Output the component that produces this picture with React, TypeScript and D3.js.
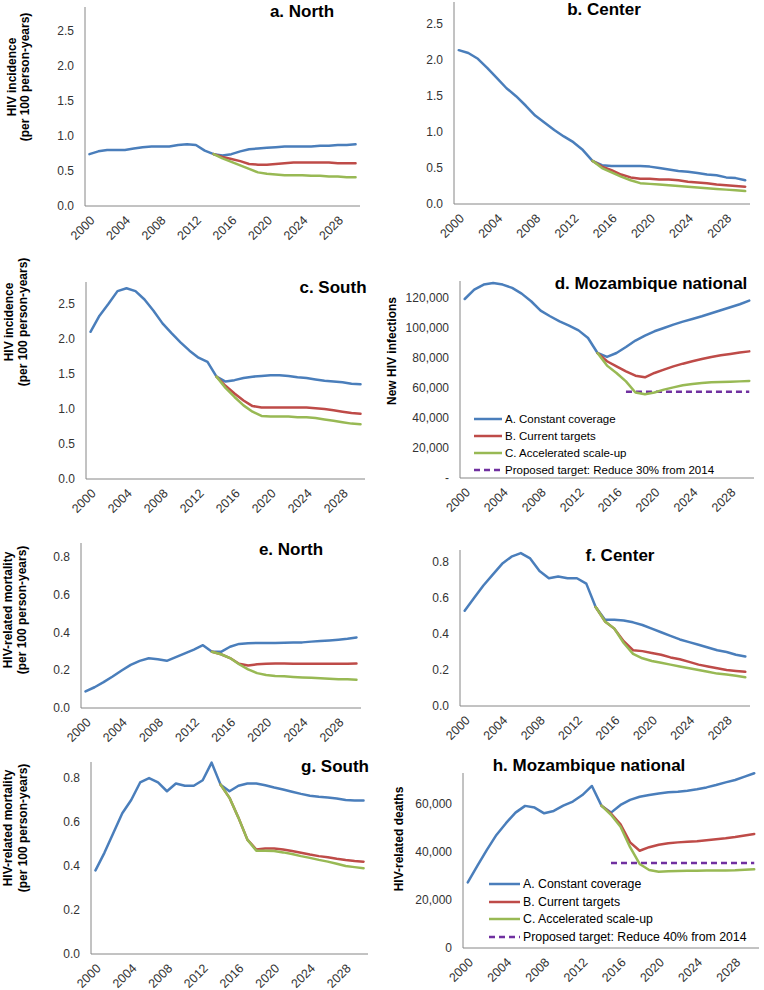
import React, { useEffect } from "react";
import * as d3 from "d3";

// ---------- DATA ----------
const years = [2000, 2001, 2002, 2003, 2004, 2005, 2006, 2007, 2008, 2009, 2010, 2011, 2012, 2013, 2014, 2015,
  2016, 2017, 2018, 2019, 2020, 2021, 2022, 2023, 2024, 2025, 2026, 2027, 2028, 2029, 2030];
const scenarioYears = [2014, 2015, 2016, 2017, 2018, 2019, 2020, 2021, 2022, 2023, 2024, 2025, 2026, 2027, 2028, 2029, 2030];
const xTickYears = [2000, 2004, 2008, 2012, 2016, 2020, 2024, 2028];

const seriesNames = ["A. Constant coverage", "B. Current targets", "C. Accelerated scale-up"];

// a. North incidence
const northIncA = [0.74, 0.78, 0.80, 0.80, 0.80, 0.82, 0.84, 0.85, 0.85, 0.85, 0.87, 0.88, 0.87, 0.79, 0.74, 0.72,
  0.74, 0.78, 0.81, 0.82, 0.83, 0.84, 0.85, 0.85, 0.85, 0.85, 0.86, 0.86, 0.87, 0.87, 0.88];
const northIncB = [0.74, 0.70, 0.67, 0.64, 0.60, 0.59, 0.59, 0.60, 0.61, 0.62, 0.62, 0.62, 0.62, 0.62, 0.61, 0.61, 0.61];
const northIncC = [0.74, 0.68, 0.63, 0.58, 0.53, 0.48, 0.46, 0.45, 0.44, 0.44, 0.44, 0.43, 0.43, 0.42, 0.42, 0.41, 0.41];

// b. Center incidence
const centerIncA = [2.14, 2.10, 2.02, 1.89, 1.75, 1.61, 1.50, 1.37, 1.23, 1.13, 1.03, 0.94, 0.86, 0.75, 0.60, 0.54,
  0.53, 0.53, 0.53, 0.53, 0.52, 0.50, 0.48, 0.46, 0.45, 0.43, 0.41, 0.40, 0.37, 0.36, 0.33];
const centerIncB = [0.60, 0.52, 0.47, 0.41, 0.37, 0.35, 0.35, 0.34, 0.34, 0.33, 0.31, 0.30, 0.29, 0.27, 0.26, 0.25, 0.24];
const centerIncC = [0.60, 0.50, 0.44, 0.38, 0.33, 0.29, 0.28, 0.27, 0.26, 0.25, 0.24, 0.23, 0.22, 0.21, 0.20, 0.19, 0.18];

// c. South incidence
const southIncA = [2.10, 2.33, 2.50, 2.68, 2.72, 2.68, 2.56, 2.40, 2.22, 2.08, 1.95, 1.83, 1.73, 1.67, 1.46, 1.39,
  1.41, 1.44, 1.46, 1.47, 1.48, 1.48, 1.47, 1.45, 1.44, 1.42, 1.40, 1.39, 1.38, 1.36, 1.35];
const southIncB = [1.46, 1.33, 1.22, 1.12, 1.04, 1.02, 1.02, 1.02, 1.02, 1.02, 1.02, 1.01, 1.00, 0.98, 0.96, 0.94, 0.93];
const southIncC = [1.46, 1.30, 1.17, 1.05, 0.96, 0.90, 0.89, 0.89, 0.89, 0.88, 0.88, 0.87, 0.85, 0.83, 0.81, 0.79, 0.78];

// d. National new infections
const natInfA = [119300, 125500, 128900, 130000, 128900, 126700, 122900, 117800, 111600, 107800, 104400, 101600,
  98400, 93300, 83300, 80700, 83300, 87300, 91600, 94900, 97800, 100000, 102200, 104200, 106000, 107800, 109800,
  111800, 113800, 115800, 118200];
const natInfB = [83300, 77800, 74400, 71100, 68200, 67100, 70000, 72200, 74400, 76200, 77800, 79300, 80700, 81800,
  82700, 83600, 84400];
const natInfC = [83300, 74900, 70000, 64400, 57000, 55800, 57000, 58900, 60400, 61800, 62700, 63300, 63800, 64000,
  64200, 64400, 64700];
const natInfTarget = 57500;
const natInfTargetStart = 2017;

// e. North mortality
const northMortA = [0.088, 0.11, 0.137, 0.167, 0.199, 0.229, 0.25, 0.264, 0.258, 0.25, 0.27, 0.29, 0.31, 0.333, 0.298,
  0.298, 0.325, 0.34, 0.343, 0.345, 0.345, 0.345, 0.346, 0.347, 0.348, 0.352, 0.355, 0.358, 0.362, 0.367, 0.374];
const northMortB = [0.298, 0.285, 0.265, 0.235, 0.225, 0.232, 0.235, 0.236, 0.236, 0.235, 0.234, 0.234, 0.234, 0.234,
  0.235, 0.235, 0.236];
const northMortC = [0.298, 0.285, 0.265, 0.232, 0.205, 0.185, 0.175, 0.170, 0.168, 0.165, 0.162, 0.160, 0.158, 0.155,
  0.153, 0.152, 0.150];

// f. Center mortality
const centerMortA = [0.53, 0.60, 0.67, 0.73, 0.79, 0.83, 0.85, 0.82, 0.75, 0.71, 0.72, 0.71, 0.71, 0.68, 0.55, 0.48,
  0.48, 0.475, 0.465, 0.45, 0.43, 0.41, 0.39, 0.37, 0.355, 0.34, 0.325, 0.31, 0.30, 0.285, 0.275];
const centerMortB = [0.55, 0.47, 0.43, 0.36, 0.31, 0.305, 0.295, 0.285, 0.27, 0.26, 0.245, 0.23, 0.22, 0.21, 0.20, 0.195, 0.19];
const centerMortC = [0.55, 0.47, 0.43, 0.35, 0.29, 0.265, 0.25, 0.24, 0.23, 0.22, 0.21, 0.20, 0.19, 0.18, 0.175, 0.168, 0.16];

// g. South mortality
const southMortA = [0.38, 0.46, 0.55, 0.64, 0.70, 0.78, 0.80, 0.78, 0.74, 0.775, 0.765, 0.765, 0.79, 0.87, 0.77, 0.74,
  0.765, 0.775, 0.775, 0.767, 0.757, 0.748, 0.738, 0.728, 0.72, 0.715, 0.712, 0.707, 0.70, 0.698, 0.698];
const southMortB = [0.77, 0.71, 0.62, 0.52, 0.475, 0.48, 0.48, 0.475, 0.468, 0.46, 0.452, 0.445, 0.44, 0.433, 0.427, 0.423, 0.42];
const southMortC = [0.77, 0.71, 0.62, 0.52, 0.47, 0.47, 0.468, 0.462, 0.455, 0.445, 0.437, 0.428, 0.42, 0.41, 0.40, 0.395, 0.39];

// h. National deaths
const natDeathA = [27300, 34200, 40900, 47100, 52000, 56400, 59200, 58500, 56100, 57100, 59300, 61000, 63700, 67500,
  59300, 56400, 59600, 61700, 63000, 63700, 64400, 64900, 65100, 65500, 66100, 66900, 67900, 69000, 70000, 71400, 72800];
const natDeathB = [59300, 56000, 51500, 44000, 40500, 42000, 43000, 43600, 44000, 44300, 44500, 44900, 45300, 45700,
  46200, 46900, 47500];
const natDeathC = [59300, 55500, 50500, 42000, 35000, 32500, 31800, 32000, 32100, 32200, 32200, 32300, 32300, 32300,
  32400, 32600, 32800];
const natDeathTarget = 35400;
const natDeathTargetStart = 2015;

const incTicks = [0, 0.5, 1.0, 1.5, 2.0, 2.5];
const mortTicks = [0, 0.2, 0.4, 0.6, 0.8];
const infTicks = [0, 20000, 40000, 60000, 80000, 100000, 120000];
const deathTicks = [0, 20000, 40000, 60000];

// ---------- STYLE / LAYOUT ----------
const COLORS = ["#4A7EBB", "#BE4B48", "#98B954"];
const TARGET_COLOR = "#7030A0";
const AXIS_COLOR = "#868686";
const FONT = "Arial, 'Liberation Sans', Helvetica, sans-serif";

const fmtDec = (v: number) => v.toFixed(1);
const fmtInf = (v: number) => (v === 0 ? "-" : d3.format(",")(v));
const fmtDeath = (v: number) => d3.format(",")(v);

type Panel = {
  left: number; right: number; top: number; bottom: number; yMax: number;
  ticks: number[]; fmt: (v: number) => string;
  title: string; titleX: number; titleY: number;
  yTitle: string[]; yTitleX: number[]; yTitleY: number;
  series: number[][];
  target?: { value: number; start: number; label: string };
  legend?: { x1: number; x2: number; tx: number; ys: number[]; size: number };
};

const panels: Panel[] = [
  { left: 85, right: 360, top: 7, bottom: 206, yMax: 2.84, ticks: incTicks, fmt: fmtDec,
    title: "a. North", titleX: 302, titleY: 17,
    yTitle: ["HIV incidence", "(per 100 person-years)"], yTitleX: [12, 25], yTitleY: 77,
    series: [northIncA, northIncB, northIncC] },
  { left: 454, right: 750, top: 2, bottom: 204, yMax: 2.81, ticks: incTicks, fmt: fmtDec,
    title: "b. Center", titleX: 604, titleY: 15,
    yTitle: [], yTitleX: [], yTitleY: 0,
    series: [centerIncA, centerIncB, centerIncC] },
  { left: 86, right: 365, top: 282, bottom: 479, yMax: 2.81, ticks: incTicks, fmt: fmtDec,
    title: "c. South", titleX: 333, titleY: 293,
    yTitle: ["HIV incidence", "(per 100 person-years)"], yTitleX: [9, 23], yTitleY: 322,
    series: [southIncA, southIncB, southIncC] },
  { left: 460, right: 754, top: 281, bottom: 478, yMax: 131300, ticks: infTicks, fmt: fmtInf,
    title: "d. Mozambique national", titleX: 651, titleY: 289,
    yTitle: ["New HIV infections"], yTitleX: [392], yTitleY: 351,
    series: [natInfA, natInfB, natInfC],
    target: { value: natInfTarget, start: natInfTargetStart, label: "Proposed target: Reduce 30% from 2014" },
    legend: { x1: 474, x2: 502, tx: 505, ys: [419, 436, 453, 470], size: 11.5 } },
  { left: 81, right: 361, top: 543, bottom: 708, yMax: 0.875, ticks: mortTicks, fmt: fmtDec,
    title: "e. North", titleX: 291, titleY: 555,
    yTitle: ["HIV-related mortality", "(per 100 person-years)"], yTitleX: [8, 22], yTitleY: 610,
    series: [northMortA, northMortB, northMortC] },
  { left: 460, right: 750, top: 550, bottom: 706, yMax: 0.867, ticks: mortTicks, fmt: fmtDec,
    title: "f. Center", titleX: 620, titleY: 561,
    yTitle: [], yTitleX: [], yTitleY: 0,
    series: [centerMortA, centerMortB, centerMortC] },
  { left: 91, right: 368, top: 762, bottom: 954, yMax: 0.873, ticks: mortTicks, fmt: fmtDec,
    title: "g. South", titleX: 335, titleY: 772,
    yTitle: ["HIV-related mortality", "(per 100 person-years)"], yTitleX: [8, 23], yTitleY: 828,
    series: [southMortA, southMortB, southMortC] },
  { left: 463, right: 759, top: 773, bottom: 948, yMax: 72900, ticks: deathTicks, fmt: fmtDeath,
    title: "h. Mozambique national", titleX: 589, titleY: 771,
    yTitle: ["HIV-related deaths"], yTitleX: [399], yTitleY: 839,
    series: [natDeathA, natDeathB, natDeathC],
    target: { value: natDeathTarget, start: natDeathTargetStart, label: "Proposed target: Reduce 40% from 2014" },
    legend: { x1: 489, x2: 520, tx: 523, ys: [884, 902, 919, 937], size: 12.3 } },
];

function PanelChart({ p }: { p: Panel }) {
  const x = d3.scalePoint<number>().domain(years).range([p.left, p.right]).padding(0.5);
  const y = d3.scaleLinear().domain([0, p.yMax]).range([p.bottom, p.top]);
  const line = d3.line<[number, number]>().x((d) => x(d[0]) as number).y((d) => y(d[1]));
  const seriesPts = p.series.map((vals, i) => {
    const yrs = i === 0 ? years : scenarioYears;
    return vals.map((v, j) => [yrs[j], v] as [number, number]);
  });
  return (
    <g>
      <line x1={p.left} x2={p.left} y1={p.top} y2={p.bottom} stroke={AXIS_COLOR} strokeWidth={1} />
      <line x1={p.left} x2={p.right} y1={p.bottom} y2={p.bottom} stroke={AXIS_COLOR} strokeWidth={1} />
      {p.ticks.map((t) => (
        <text key={t} x={p.left - 11} y={y(t)} dy="0.35em" textAnchor="end" fontSize={12} fill="#333" fontFamily={FONT}>
          {p.fmt(t)}
        </text>
      ))}
      {xTickYears.map((yr) => (
        <text key={yr} transform={`translate(${(x(yr) as number) + 3},${p.bottom + 12}) rotate(-45)`}
          dy="0.35em" textAnchor="end" fontSize={12.5} fill="#333" fontFamily={FONT}>
          {yr}
        </text>
      ))}
      {p.yTitle.map((t, i) => (
        <text key={t} transform={`translate(${p.yTitleX[i]},${p.yTitleY}) rotate(-90)`} dy="0.35em"
          textAnchor="middle" fontSize={12} fontWeight="bold" fill="#000" fontFamily={FONT}>
          {t}
        </text>
      ))}
      {p.target && (
        <line x1={x(p.target.start)} x2={x(2030)} y1={y(p.target.value)} y2={y(p.target.value)}
          stroke={TARGET_COLOR} strokeWidth={2.5} strokeDasharray="6,4" />
      )}
      {seriesPts.map((pts, i) => (
        <path key={i} d={line(pts) || ""} fill="none" stroke={COLORS[i]} strokeWidth={2.5}
          strokeLinejoin="round" strokeLinecap="round" />
      ))}
      <text x={p.titleX} y={p.titleY} textAnchor="middle" fontSize={17} fontWeight="bold" fill="#000" fontFamily={FONT}>
        {p.title}
      </text>
      {p.legend && p.target && (
        <g>
          {[...seriesNames, p.target.label].map((name, i) => (
            <g key={name}>
              <line x1={p.legend!.x1} x2={p.legend!.x2} y1={p.legend!.ys[i]} y2={p.legend!.ys[i]}
                stroke={i < 3 ? COLORS[i] : TARGET_COLOR} strokeWidth={2.5}
                strokeDasharray={i < 3 ? undefined : "6,4"} />
              <text x={p.legend!.tx} y={p.legend!.ys[i]} dy="0.35em" fontSize={p.legend!.size} fill="#000" fontFamily={FONT}>
                {name}
              </text>
            </g>
          ))}
        </g>
      )}
    </g>
  );
}

export default function App() {
  useEffect(() => {
    document.body.style.margin = "0";
  }, []);
  return (
    <svg width={764} height={990} style={{ display: "block", background: "#fff" }}>
      <rect x={0} y={0} width={764} height={990} fill="#fff" />
      {panels.map((p, i) => (
        <PanelChart key={i} p={p} />
      ))}
    </svg>
  );
}
